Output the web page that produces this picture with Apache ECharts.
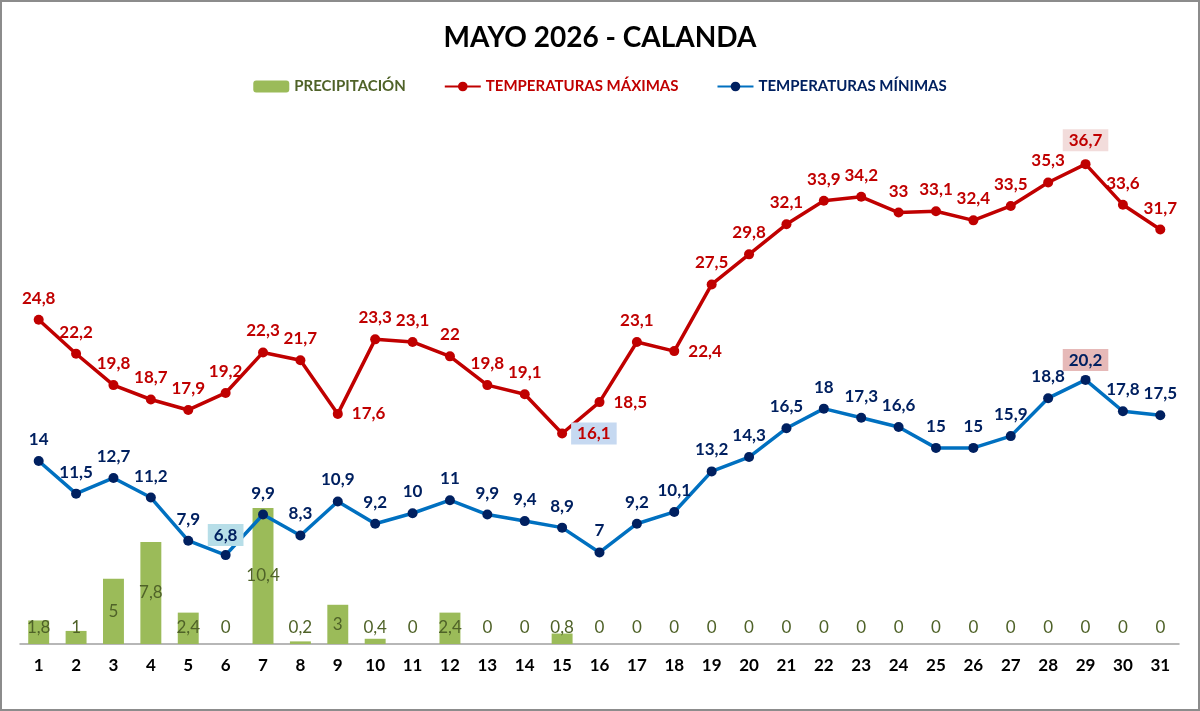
<!DOCTYPE html>
<html>
<head>
<meta charset="utf-8">
<script src="https://cdn.jsdelivr.net/npm/echarts@6/dist/echarts.min.js"></script>
<style>
  html, body { margin: 0; padding: 0; background: #fff; }
  #chart { width: 1200px; height: 711px; box-sizing: border-box; border: 2px solid #8c8c8c; }
</style>
</head>
<body>
<div id="chart"></div>
<script>
  const dias = ['1', '2', '3', '4', '5', '6', '7', '8', '9', '10', '11', '12', '13', '14', '15', '16',
    '17', '18', '19', '20', '21', '22', '23', '24', '25', '26', '27', '28', '29', '30', '31']
  const precipitacion = [1.8, 1, 5, 7.8, 2.4, 0, 10.4, 0.2, 3, 0.4, 0, 2.4, 0, 0, 0.8, 0,
    0, 0, 0, 0, 0, 0, 0, 0, 0, 0, 0, 0, 0, 0, 0]
  const tempMax = [24.8, 22.2, 19.8, 18.7, 17.9, 19.2, 22.3, 21.7, 17.6, 23.3, 23.1, 22, 19.8, 19.1, 16.1, 18.5,
    23.1, 22.4, 27.5, 29.8, 32.1, 33.9, 34.2, 33, 33.1, 32.4, 33.5, 35.3, 36.7, 33.6, 31.7]
  const tempMin = [14, 11.5, 12.7, 11.2, 7.9, 6.8, 9.9, 8.3, 10.9, 9.2, 10, 11, 9.9, 9.4, 8.9, 7,
    9.2, 10.1, 13.2, 14.3, 16.5, 18, 17.3, 16.6, 15, 15, 15.9, 18.8, 20.2, 17.8, 17.5]

  const FONT = 'Lato'
  const coma = p => String(p.value).replace('.', ',')

  // label placement / highlight tweaks (by day index)
  const maxDerecha = [8, 14, 15, 17]
  const maxResalte = { 14: '#c6d9f1', 28: '#f2dcdb' }
  const minResalte = { 5: '#b7dee8', 28: '#e6b9b8' }

  const dataMax = tempMax.map((v, i) => {
    const item = { value: v }
    const lab = {}
    if (maxDerecha.includes(i)) { lab.position = 'right'; lab.distance = 9 }
    if (maxResalte[i]) { lab.backgroundColor = maxResalte[i]; lab.padding = [3, 6, 2, 6] }
    if (maxResalte[i] && maxDerecha.includes(i)) lab.distance = 4
    if (Object.keys(lab).length) item.label = lab
    return item
  })
  const dataMin = tempMin.map((v, i) => {
    const item = { value: v }
    if (minResalte[i]) item.label = { backgroundColor: minResalte[i], padding: [3, 6, 2, 6], distance: 4 }
    return item
  })
  const dataPrec = precipitacion.map(v => {
    const item = { value: v }
    if (v * 13.07 / 2 < 18) item.label = { position: 'insideBottom', distance: 8 }
    return item
  })

  const chart = echarts.init(document.getElementById('chart'))
  chart.setOption({
    animation: false,
    textStyle: { fontFamily: FONT },
    title: {
      text: 'MAYO 2026 - CALANDA',
      left: 'center',
      top: 17,
      textStyle: { fontFamily: FONT, fontSize: 28, fontWeight: 'bold', color: '#000' }
    },
    legend: {
      top: 72,
      left: 'center',
      itemWidth: 36,
      itemHeight: 12,
      itemGap: 38,
      textStyle: { fontFamily: FONT, fontSize: 15, fontWeight: 'bold' },
      data: [
        { name: 'PRECIPITACIÓN', textStyle: { color: '#4f6228' } },
        { name: 'TEMPERATURAS MÁXIMAS', textStyle: { color: '#c00000' } },
        { name: 'TEMPERATURAS MÍNIMAS', textStyle: { color: '#002060' } }
      ]
    },
    grid: { left: 18, right: 19, top: 119, bottom: 65 },
    xAxis: {
      type: 'category',
      data: dias,
      axisLine: { lineStyle: { color: '#a0a0a0', width: 1.5 } },
      axisTick: { show: false },
      axisLabel: { color: '#000', fontFamily: FONT, fontSize: 17, fontWeight: 'bold', margin: 13 }
    },
    yAxis: {
      type: 'value',
      min: 0,
      max: 40,
      show: false,
      splitLine: { show: false }
    },
    series: [
      {
        name: 'PRECIPITACIÓN',
        type: 'bar',
        barWidth: '56%',
        data: dataPrec,
        itemStyle: { color: '#9bbb59' },
        label: {
          show: true,
          position: 'inside',
          formatter: coma,
          color: '#4f6228',
          fontFamily: FONT,
          fontSize: 17
        },
        z: 1
      },
      {
        name: 'TEMPERATURAS MÁXIMAS',
        type: 'line',
        data: dataMax,
        symbol: 'circle',
        symbolSize: 10,
        lineStyle: { color: '#c00000', width: 3.5 },
        itemStyle: { color: '#c00000' },
        label: {
          show: true,
          position: 'top',
          distance: 8,
          formatter: coma,
          color: '#c00000',
          fontFamily: FONT,
          fontSize: 17,
          fontWeight: 'bold'
        },
        z: 3
      },
      {
        name: 'TEMPERATURAS MÍNIMAS',
        type: 'line',
        data: dataMin,
        symbol: 'circle',
        symbolSize: 10,
        lineStyle: { color: '#0070c0', width: 3.5 },
        itemStyle: { color: '#002060' },
        label: {
          show: true,
          position: 'top',
          distance: 8,
          formatter: coma,
          color: '#002060',
          fontFamily: FONT,
          fontSize: 17,
          fontWeight: 'bold'
        },
        z: 3
      }
    ]
  })
</script>
</body>
</html>
